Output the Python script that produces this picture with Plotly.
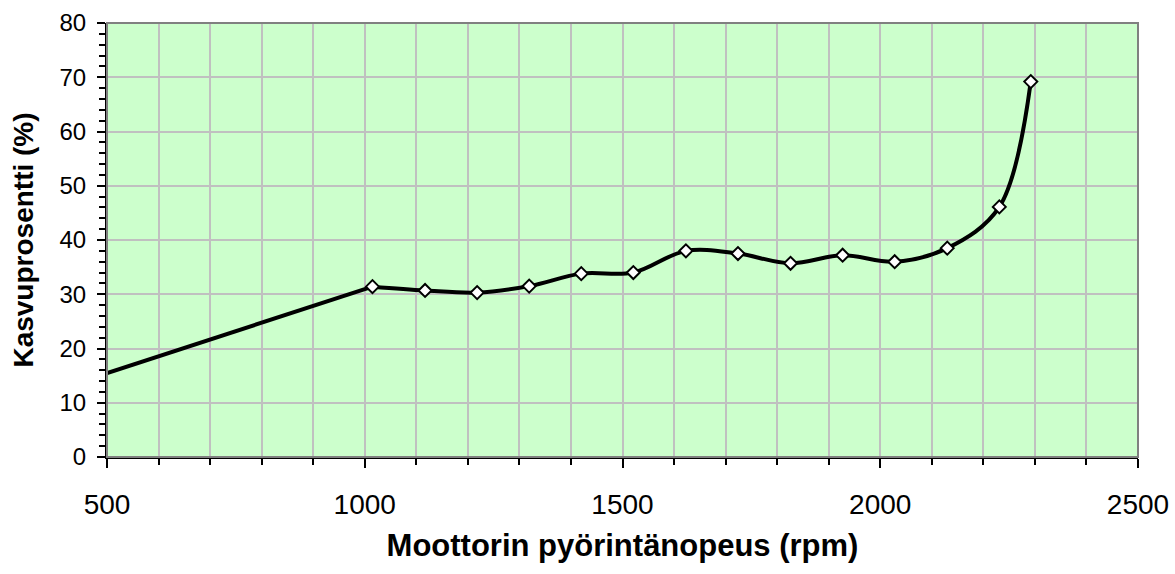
import plotly.graph_objects as go

rpm = [0, 1015, 1117, 1218, 1319, 1420, 1521, 1623, 1724, 1826, 1927, 2028, 2130, 2231, 2292]
growth = [0, 31.4, 30.7, 30.3, 31.5, 33.8, 34.0, 38.0, 37.5, 35.7, 37.2, 36.0, 38.5, 46.1, 69.2]

x_title = "Moottorin pyörintänopeus (rpm)"
y_title = "Kasvuprosentti (%)"

FONT = "Liberation Sans, Arial, sans-serif"
LINE = dict(color="black", width=4)

fig = go.Figure()
# first (straight) segment from the origin point
fig.add_trace(go.Scatter(
    x=rpm[:2], y=growth[:2], mode="lines",
    line=dict(**LINE, shape="linear"),
    cliponaxis=True, showlegend=False, hoverinfo="skip",
))
# smoothed remainder
fig.add_trace(go.Scatter(
    x=rpm[1:], y=growth[1:], mode="lines",
    line=dict(**LINE, shape="spline", smoothing=1),
    cliponaxis=True, showlegend=False,
))
# markers
fig.add_trace(go.Scatter(
    x=rpm, y=growth, mode="markers",
    marker=dict(symbol="diamond", size=10, color="white", line=dict(color="black", width=2)),
    cliponaxis=True, showlegend=False,
))

fig.update_layout(
    width=1175, height=574, autosize=False,
    margin=dict(l=107, r=37, t=23, b=117),
    plot_bgcolor="#CCFFCC", paper_bgcolor="white",
    font=dict(family=FONT, color="black"),
    shapes=[dict(type="rect", xref="paper", yref="paper", x0=0, y0=0, x1=1, y1=1,
                 line=dict(color="#808080", width=2), layer="above")],
)

fig.update_xaxes(
    range=[500, 2500], dtick=500, tick0=500, automargin=False,
    showgrid=True, gridcolor="#C0C0C0", gridwidth=1.5,
    ticks="outside", ticklen=9, tickcolor="black", tickwidth=1.5,
    minor=dict(dtick=100, tick0=500, ticks="outside", ticklen=6, tickcolor="black", tickwidth=1.5,
               showgrid=True, gridcolor="#C0C0C0", gridwidth=1.5),
    showline=True, linecolor="black", linewidth=2, mirror=False,
    zeroline=False,
    tickfont=dict(size=28, family=FONT),
    ticklabelstandoff=12,
    title=dict(text=x_title, font=dict(size=31, family=FONT, weight="bold"), standoff=16),
)
fig.update_yaxes(
    range=[0, 80], dtick=10, tick0=0, automargin=False,
    showgrid=True, gridcolor="#C0C0C0", gridwidth=1.5,
    ticks="outside", ticklen=8, tickcolor="black", tickwidth=1.5,
    minor=dict(dtick=2, ticks="outside", ticklen=6, tickcolor="black", tickwidth=1.5, showgrid=False),
    showline=True, linecolor="black", linewidth=2, mirror=False,
    zeroline=False,
    tickfont=dict(size=24, family=FONT),
    ticklabelstandoff=6,
    title=dict(text=y_title, font=dict(size=28, family=FONT, weight="bold"), standoff=18),
)

fig.write_html("out.html", config={"displayModeBar": False},
               post_script="document.body.style.margin='0';")
